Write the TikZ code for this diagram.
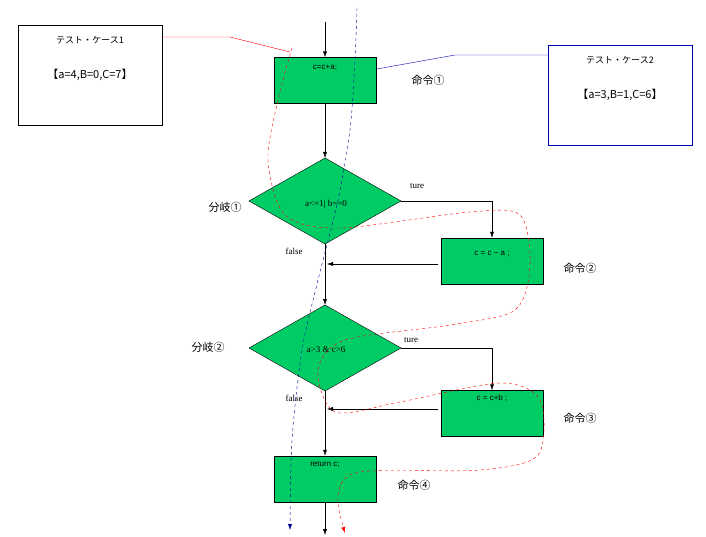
\documentclass[tikz,border=0pt]{standalone}
\usepackage{fontspec}
\setmainfont{Liberation Serif}
\newfontfamily\jp{Noto Sans CJK JP}
\newfontfamily\hv{Liberation Sans}
\usetikzlibrary{arrows.meta}
\definecolor{gr}{RGB}{0,204,102}
\begin{document}
\begin{tikzpicture}[x=1pt,y=-1pt,
 box/.style={draw,fill=gr,minimum width=102pt,minimum height=46pt,inner sep=0pt},
 dia/.style={draw,fill=gr},
 code/.style={font=\hv\fontsize{8}{9}\selectfont},
 lab/.style={font=\jp\fontsize{11}{12}\selectfont},
 sm/.style={font=\fontsize{9}{10}\selectfont},
 arr/.style={-{Latex[length=6pt,width=4pt]}},
 tc/.style={draw,minimum width=144pt,minimum height=100pt,fill=white}]
\useasboundingbox (0,0) rectangle (706,537);
% test cases
\node[tc] (t1) at (90,75) {};
\node[font=\jp\fontsize{9}{10}\selectfont] (t1a) at (90,40) {テスト・ケース1};
\node[font=\jp\fontsize{11}{12}\selectfont] (t1b) at (90,75) {【a=4,B=0,C=7】};
\node[tc,draw=blue!70!black] (t2) at (620,95) {};
\node[font=\jp\fontsize{9}{10}\selectfont] (t2a) at (620,60) {テスト・ケース2};
\node[font=\jp\fontsize{11}{12}\selectfont] (t2b) at (620,95) {【a=3,B=1,C=6】};
\draw[red] (162,37) -- (230,37) -- (290,52);
\draw[blue!70!black] (360,72) -- (455,55) -- (548,55);
% boxes
\coordinate (s) at (325,22);
\node[box] (c1) at (325,80.5) {};
\node[code,anchor=north] at (325,61) {c=c+a;};
\node[lab] (l1) at (428,80) {命令①};
\draw[dia] (249,201) -- (325,158) -- (401,201) -- (325,244) -- cycle;
\coordinate (d1) at (325,201);
\node[sm] at (326,204) {a<=1| b==0};
\node[lab] (b1) at (225,207) {分岐①};
\node[sm] at (417,186) {ture};
\node[sm] at (294,251) {false};
\node[box] (c2) at (492,261) {};
\node[code] at (492,254) {c = c − a ;};
\node[lab] (l2) at (580,268) {命令②};
\draw[dia] (249,348) -- (325,305) -- (401,348) -- (325,391) -- cycle;
\coordinate (d2) at (325,348);
\node[sm] at (326,350) {a>3 \& c>6};
\node[lab] (b2) at (208,347) {分岐②};
\node[sm] at (411,340) {ture};
\node[sm] at (294,398) {false};
\node[box] (c3) at (492,413.5) {};
\node[code] at (492,398) {c = c+b ;};
\node[lab] (l3) at (580,418) {命令③};
\node[box] (c4) at (325,479) {};
\node[code,anchor=north] at (325,458) {return c;};
\node[lab] (l4) at (414,485) {命令④};
\coordinate (e) at (325,535);
% connectors
\draw[arr] (s) -- (c1.north);
\draw[arr] (c1.south) -- (325,158);
\draw (325,244) -- (325,264);
\draw[arr] (325,264) -- (325,305);
\draw[arr] (401,201) -- (492,201) -- (c2.north);
\draw[arr] (438,264) -- (327,264);
\draw (325,391) -- (325,409);
\draw[arr] (325,409) -- (c4.north);
\draw[arr] (401,348) -- (492,348) -- (c3.north);
\draw[arr] (438,409) -- (327,409);
\draw[arr] (c4.south) -- (e);
% paths
\draw[blue!60!black,dashed,arr] plot[smooth] coordinates {(357,8) (355,60) (350,130) (338,200) (318,280) (302,350) (292,440) (290,530)};
\draw[red,dashed,-{Latex[length=6pt,width=4pt]}] plot[smooth] coordinates {(292,48) (278,100) (268,160) (285,215) (340,228) (470,212) (520,215) (530,265) (515,310) (450,325) (345,340) (318,370) (335,412) (400,402) (500,383) (540,400) (538,455) (480,470) (360,472) (338,495) (345,533)};
\end{tikzpicture}
\end{document}
